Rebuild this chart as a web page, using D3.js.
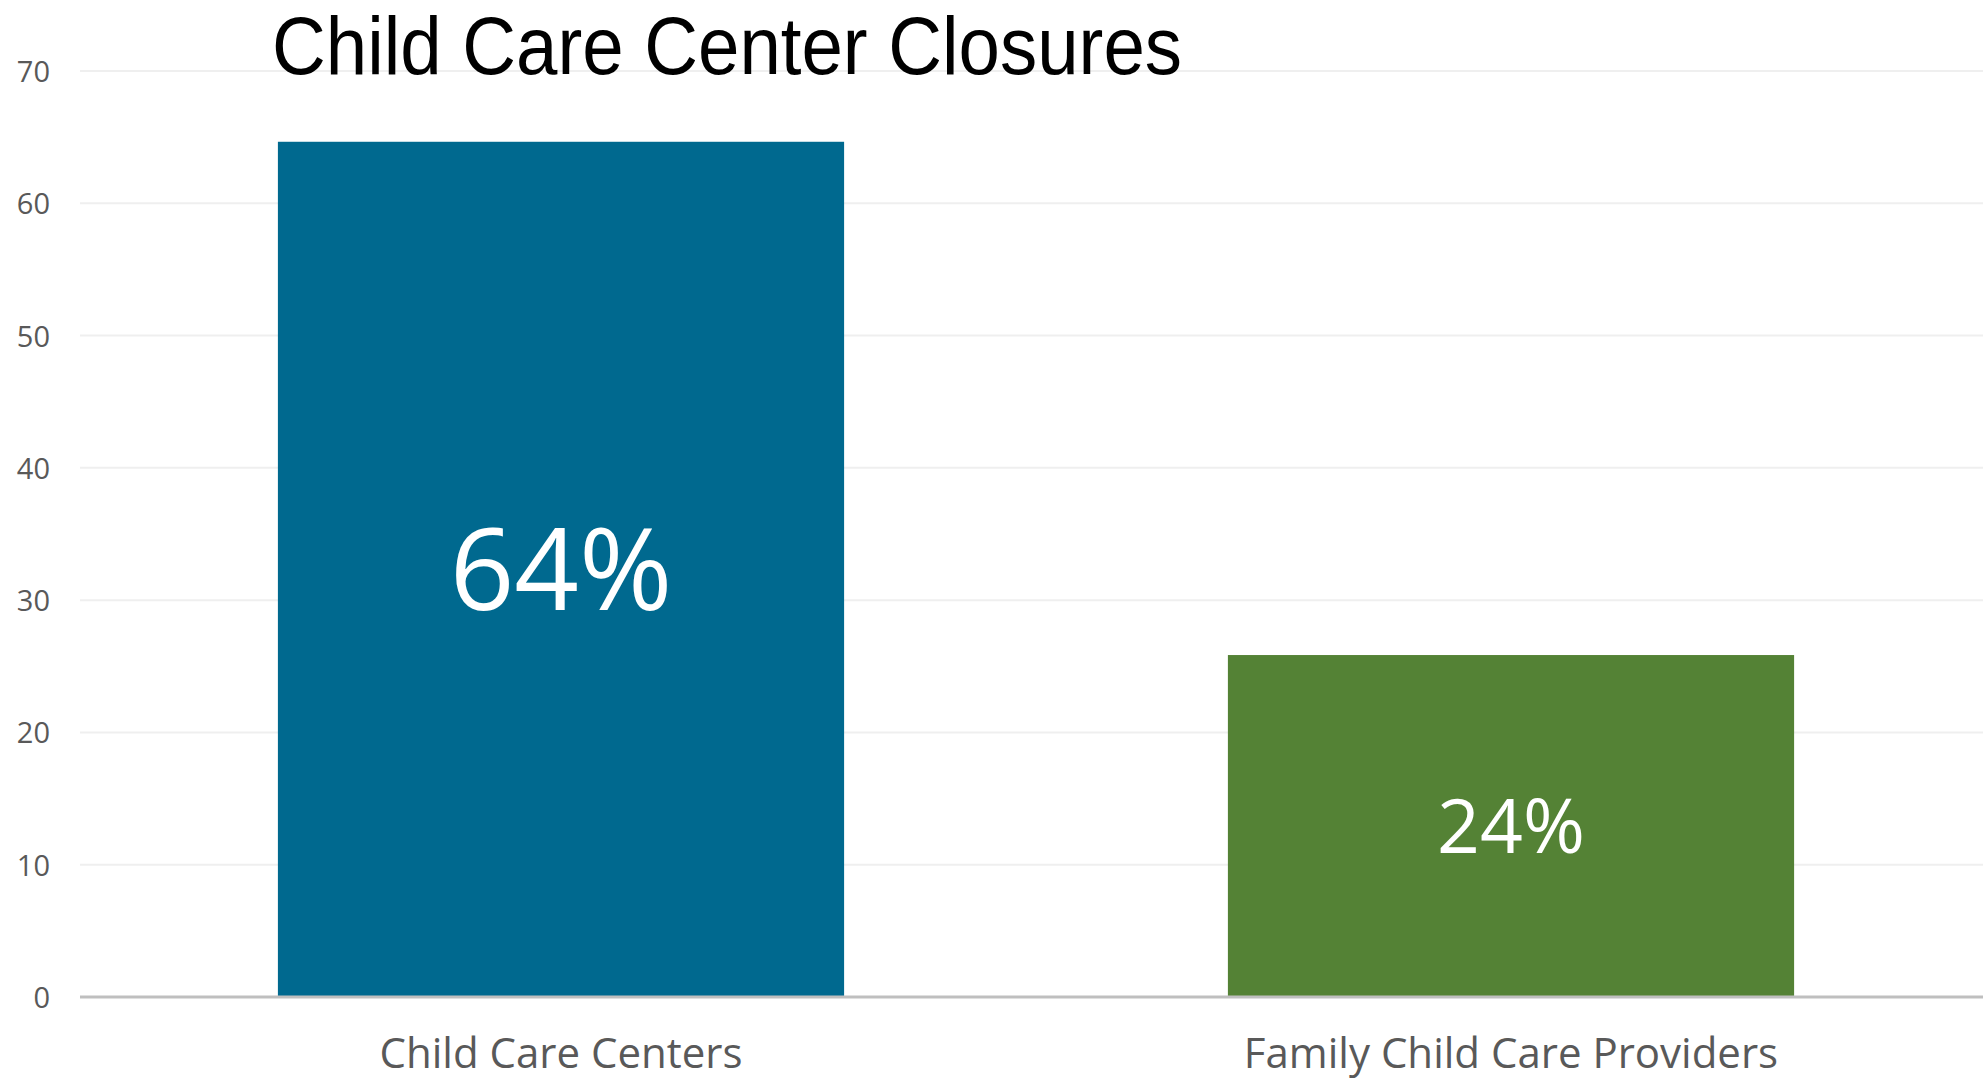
<!DOCTYPE html>
<html>
<head>
<meta charset="utf-8">
<script src="https://cdn.jsdelivr.net/npm/d3@7"></script>
<style>
  html, body { margin: 0; padding: 0; background: #ffffff; overflow: hidden; }
  svg { display: block; }
</style>
</head>
<body>
<svg id="chart" width="1983" height="1081"></svg>
<script>
// ---- Data ----
const categories = ["Child Care Centers", "Family Child Care Providers"];
const values = [64.65, 25.85];
const valueLabels = ["64%", "24%"];
const barColors = ["#00698F", "#548235"];
const yTicks = [0, 10, 20, 30, 40, 50, 60, 70];
const titleText = "Child Care Center Closures";

// ---- Layout ----
const W = 1983, H = 1081;
const svg = d3.select("#chart");
const plot = { left: 86, right: 1986, top: 71, bottom: 997 };

const x = d3.scaleBand()
  .domain(categories)
  .range([plot.left, plot.right])
  .paddingInner(0.404)
  .paddingOuter(0.202);

const y = d3.scaleLinear()
  .domain([0, 70])
  .range([plot.bottom, plot.top]);

const sansFont = "'Open Sans', 'Noto Sans', sans-serif";

// gridlines
svg.append("g")
  .selectAll("line")
  .data(yTicks.filter(d => d !== 0))
  .join("line")
  .attr("x1", 80).attr("x2", W)
  .attr("y1", d => y(d)).attr("y2", d => y(d))
  .attr("stroke", "#EFEFEF").attr("stroke-width", 2);

// y axis labels
const yAxis = d3.axisLeft(y).tickValues(yTicks).tickSize(0).tickPadding(0);
const yg = svg.append("g").attr("transform", "translate(50,0)").call(yAxis);
yg.select(".domain").remove();
yg.selectAll("text")
  .attr("fill", "#595959")
  .attr("font-family", sansFont)
  .attr("font-size", 29)
  .attr("dy", "0.36em");

// bars
svg.append("g")
  .selectAll("rect")
  .data(categories)
  .join("rect")
  .attr("x", d => x(d))
  .attr("width", x.bandwidth())
  .attr("y", (d, i) => y(values[i]))
  .attr("height", (d, i) => y(0) - y(values[i]))
  .attr("fill", (d, i) => barColors[i]);

// baseline axis
svg.append("line")
  .attr("x1", 80).attr("x2", W)
  .attr("y1", y(0)).attr("y2", y(0))
  .attr("stroke", "#BFBFBF").attr("stroke-width", 3);

// value labels inside bars
const labelSizes = [113, 75];
svg.append("g")
  .selectAll("text")
  .data(categories)
  .join("text")
  .attr("x", d => x(d) + x.bandwidth() / 2)
  .attr("y", (d, i) => (y(values[i]) + y(0)) / 2)
  .attr("dy", "0.36em")
  .attr("text-anchor", "middle")
  .attr("fill", "#ffffff")
  .attr("font-family", sansFont)
  .attr("font-size", (d, i) => labelSizes[i])
  .text((d, i) => valueLabels[i]);

// x axis category labels
const xAxis = d3.axisBottom(x).tickSize(0).tickPadding(0);
const xg = svg.append("g").attr("transform", "translate(0,1068)").call(xAxis);
xg.select(".domain").remove();
xg.selectAll("text")
  .attr("fill", "#595959")
  .attr("font-family", sansFont)
  .attr("font-size", 42)
  .attr("dy", "0");

// title
const title = svg.append("text")
  .attr("x", 272).attr("y", 74)
  .attr("fill", "#000000")
  .attr("font-family", "'Liberation Sans Narrow', 'Arial Narrow', 'Liberation Sans', Arial, sans-serif")
  .attr("font-size", 81)
  .text(titleText);
const tw = title.node().getComputedTextLength();
if (Math.abs(tw - 910) > 10) {
  title.attr("textLength", 910).attr("lengthAdjust", "spacingAndGlyphs");
}
</script>
</body>
</html>
